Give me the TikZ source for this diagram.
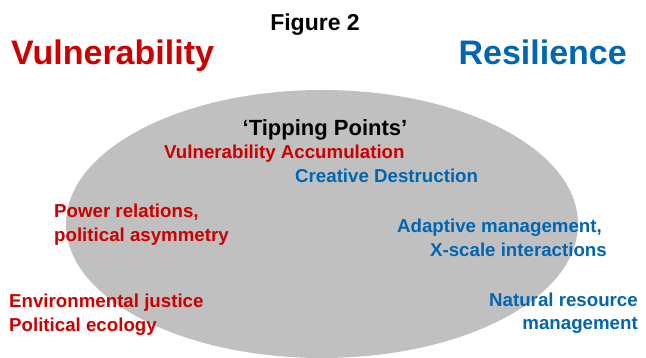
\documentclass[tikz,border=0pt]{standalone}
\usepackage{fontspec}
\setmainfont{Liberation Sans}
\definecolor{vred}{RGB}{204,0,0}
\definecolor{rblue}{RGB}{0,102,178}
\definecolor{egray}{RGB}{192,192,192}
\tikzset{
  txt/.style={inner sep=0pt, font=\bfseries\fontsize{18.7}{24}\selectfont},
  redtxt/.style={txt, text=vred},
  bluetxt/.style={txt, text=rblue},
}
\begin{document}
\begin{tikzpicture}[x=1pt,y=-1pt]
\useasboundingbox (0,0) rectangle (646,358);
\fill[egray] (322,224) ellipse [x radius=256, y radius=134];
\node[inner sep=0pt, anchor=base, font=\bfseries\fontsize{23}{26}\selectfont] (fig) at (315,31) {Figure 2};
\node[inner sep=0pt, anchor=base west, text=vred, font=\bfseries\fontsize{34}{40}\selectfont] (vul) at (11,65) {Vulnerability};
\node[inner sep=0pt, anchor=base east, text=rblue, font=\bfseries\fontsize{34}{40}\selectfont] (res) at (627,65) {Resilience};
\node[inner sep=0pt, anchor=base, font=\bfseries\fontsize{22}{26}\selectfont] (tip) at (325,136) {‘Tipping Points’};
\node[redtxt, anchor=base west] (va) at (164,159) {Vulnerability Accumulation};
\node[bluetxt, anchor=base west] (cd) at (295,183) {Creative Destruction};
\node[redtxt, anchor=base west] (pr1) at (54,218) {Power relations,};
\node[redtxt, anchor=base west] (pr2) at (54,242) {political asymmetry};
\node[bluetxt, anchor=base east] (am1) at (602,233) {Adaptive management,};
\node[bluetxt, anchor=base east] (am2) at (607,257) {X-scale interactions};
\node[redtxt, anchor=base west] (ej) at (9,308) {Environmental justice};
\node[redtxt, anchor=base west] (pe) at (9,332) {Political ecology};
\node[bluetxt, anchor=base east] (nr1) at (638,307) {Natural resource};
\node[bluetxt, anchor=base east] (nr2) at (638,330) {management};
\end{tikzpicture}
\end{document}
